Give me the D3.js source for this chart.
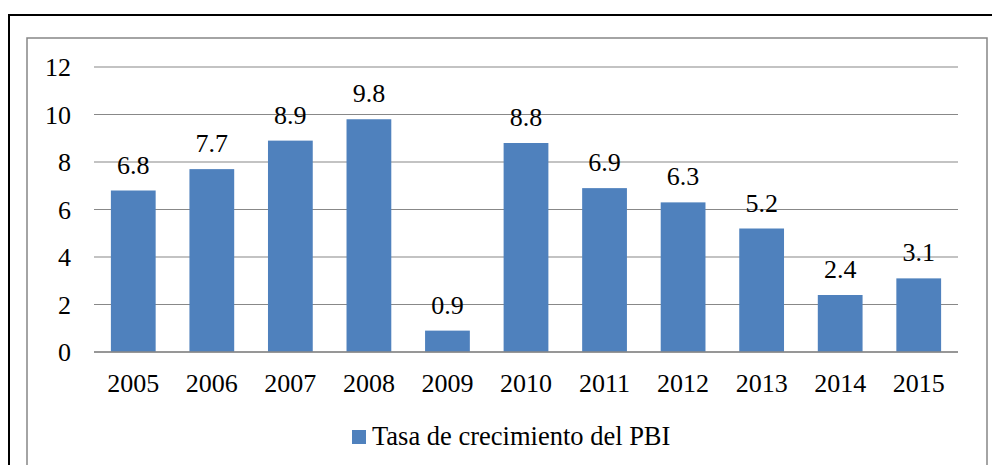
<!DOCTYPE html>
<html>
<head>
<meta charset="utf-8">
<script src="https://cdn.jsdelivr.net/npm/d3@7"></script>
<style>
  html, body { margin: 0; padding: 0; background: #fff; }
  svg { display: block; }
</style>
</head>
<body>
<svg id="chart" width="992" height="465"></svg>
<script>
const years = ["2005","2006","2007","2008","2009","2010","2011","2012","2013","2014","2015"];
const growth = [6.8, 7.7, 8.9, 9.8, 0.9, 8.8, 6.9, 6.3, 5.2, 2.4, 3.1];
const yTicks = [0, 2, 4, 6, 8, 10, 12];
const seriesName = "Tasa de crecimiento del PBI";

(function () {
const FONT = "Liberation Serif";
const svg = d3.select("#chart");
const color = "#4F81BD";

// outer black frame (extends past right/bottom)
svg.append("rect").attr("x", 9).attr("y", 15).attr("width", 1000).attr("height", 500)
  .attr("fill", "none").attr("stroke", "#000").attr("stroke-width", 2);
// inner gray chart-area frame
svg.append("rect").attr("x", 27).attr("y", 38).attr("width", 960).attr("height", 500)
  .attr("fill", "none").attr("stroke", "#868686").attr("stroke-width", 1.5);

const pl = 94, pr = 958, pt = 67, pb = 352;
const x = d3.scaleBand().domain(years).range([pl, pr]).paddingInner(0.43).paddingOuter(0.215);
const y = d3.scaleLinear().domain([0, 12]).range([pb, pt]);

// gridlines
svg.append("g").selectAll("line").data(yTicks).join("line")
  .attr("x1", pl).attr("x2", pr)
  .attr("y1", d => y(d)).attr("y2", d => y(d))
  .attr("stroke", "#888").attr("stroke-width", 1.2);

// y axis labels
const yAxis = d3.axisLeft(y).tickValues(yTicks).tickSize(0).tickPadding(23).tickFormat(d3.format("d"));
const gy = svg.append("g").attr("transform", `translate(${pl},0)`).call(yAxis);
gy.select(".domain").remove();
gy.attr("font-family", FONT).attr("font-size", 26);
gy.selectAll("text").style("font-family", FONT).style("font-size", "26px")
  .attr("fill", "#000").attr("dy", "0.33em");

// bars
svg.append("g").selectAll("rect").data(growth).join("rect")
  .attr("x", (d, i) => x(years[i]))
  .attr("width", x.bandwidth())
  .attr("y", d => y(d))
  .attr("height", d => y(0) - y(d))
  .attr("fill", color);

// baseline
svg.append("line").attr("x1", pl).attr("x2", pr).attr("y1", y(0)).attr("y2", y(0))
  .attr("stroke", "#888").attr("stroke-width", 1.5);

// value labels
svg.append("g").attr("font-family", FONT).attr("font-size", 26)
  .selectAll("text").data(growth).join("text")
  .attr("x", (d, i) => x(years[i]) + x.bandwidth() / 2)
  .attr("y", d => y(d) - 17)
  .attr("text-anchor", "middle")
  .attr("fill", "#000")
  .style("font-family", FONT).style("font-size", "26px")
  .text(d => d3.format(".1f")(d));

// x axis labels
const xAxis = d3.axisBottom(x).tickSize(0).tickPadding(0);
const gx = svg.append("g").attr("transform", `translate(0,${pb})`).call(xAxis);
gx.select(".domain").remove();
gx.attr("font-family", FONT).attr("font-size", 26);
gx.selectAll("text").style("font-family", FONT).style("font-size", "26px")
  .attr("fill", "#000").attr("dy", null).attr("y", 40);

// legend
const lg = svg.append("g").attr("font-family", FONT);
lg.append("rect").attr("x", 352).attr("y", 430).attr("width", 14).attr("height", 14).attr("fill", color);
lg.append("text").attr("x", 372).attr("y", 445).attr("fill", "#000")
  .style("font-family", FONT).style("font-size", "26.5px").text(seriesName);
})();
</script>
</body>
</html>
